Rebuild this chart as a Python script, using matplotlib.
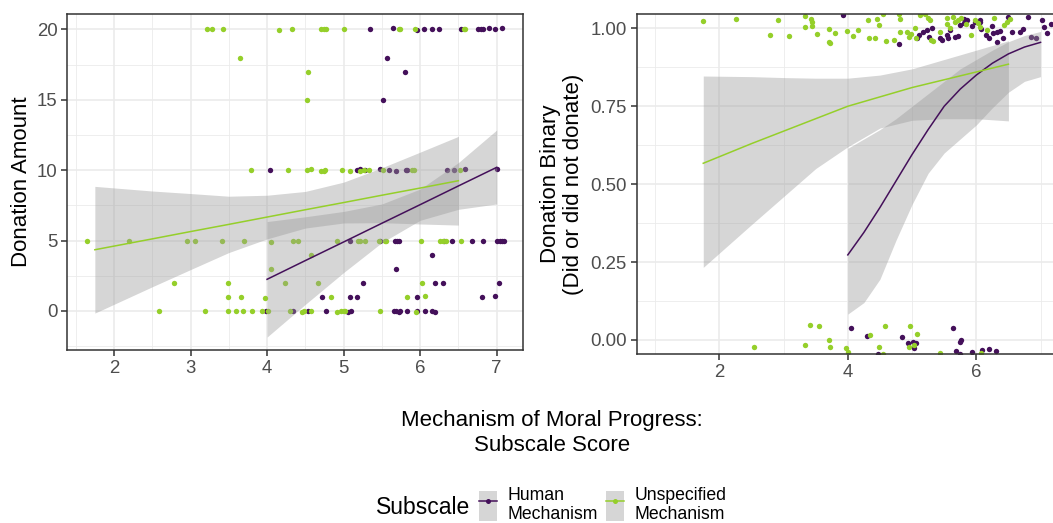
import matplotlib
matplotlib.use('Agg')
import matplotlib.pyplot as plt
from matplotlib.patches import Patch
from matplotlib.lines import Line2D
from matplotlib.legend_handler import HandlerTuple
from matplotlib.ticker import MultipleLocator

plt.rcParams['font.family'] = ['Liberation Sans', 'DejaVu Sans']

HUMAN = '#44105A'
UNSPEC = '#95CF2A'

# ---- left panel: donation amount (jittered points) ----
human_amt_x = [5.34, 5.65, 5.96, 6.05, 6.16, 6.25, 6.54, 6.76, 6.79, 6.82, 6.90, 6.98, 7.07,
               5.57, 5.80, 5.51,
               4.04, 5.17, 5.21, 5.28, 5.48, 5.59, 5.68, 5.81, 5.83, 6.35, 6.44, 6.59, 7.00,
               5.09, 5.48, 5.67, 5.70, 5.73, 6.31, 6.41, 6.68, 6.82, 7.00, 7.04, 7.07, 7.10,
               6.15, 5.68,
               5.25, 6.19, 6.30, 7.03,
               4.72, 5.09, 5.17, 5.96, 6.81, 6.98,
               3.99, 4.34, 4.54, 4.77, 5.06, 5.10, 5.66, 5.69, 5.72, 5.74, 5.83, 5.96, 6.07, 6.16, 6.19]
human_amt_y = [20.0, 20.1, 19.95, 20.0, 20.0, 20.0, 20.0, 20.05, 20.05, 20.05, 20.1, 20.05, 20.1,
               18.0, 17.0, 15.0,
               10.0, 10.0, 10.05, 10.0, 10.05, 10.0, 9.95, 10.0, 10.0, 10.0, 10.0, 10.05, 10.05,
               5.0, 4.95, 5.0, 4.95, 5.0, 5.0, 4.95, 4.95, 5.0, 5.0, 5.0, 5.0, 5.0,
               4.0, 3.0,
               2.0, 2.0, 2.0, 2.0,
               1.0, 1.0, 1.0, 1.0, 1.0, 1.05,
               0.0, 0.0, 0.0, 0.0, -0.05, 0.0, 0.0, 0.0, -0.05, 0.0, 0.0, 0.0, 0.0, 0.0, -0.05]

unspec_amt_x = [3.21, 3.28, 3.43, 4.16, 4.32, 4.71, 4.74, 4.77, 5.00, 5.72, 5.74, 5.93, 6.57, 6.59,
                3.65, 4.53, 4.52,
                3.79, 4.28, 4.52, 4.57, 4.71, 4.74, 4.76, 4.98, 5.09, 5.22, 5.27, 5.33, 5.52, 5.89,
                5.92, 6.52,
                1.65, 2.19, 2.95, 3.06, 3.41, 3.70, 4.05, 4.34, 4.41, 4.92, 5.19, 5.22, 5.28, 5.46,
                5.54, 5.55, 6.01, 6.26, 6.30, 6.34, 6.54,
                4.58, 4.05,
                2.78, 3.49, 4.23, 4.67, 6.03,
                3.49, 3.66, 3.97, 4.83, 5.83, 6.07,
                2.59, 3.19, 3.49, 3.59, 3.68, 3.80, 3.93, 4.01, 4.30, 4.45, 4.48, 4.58, 4.91, 4.96,
                5.00, 5.02, 5.47, 5.94]
unspec_amt_y = [20.0, 20.0, 20.0, 19.95, 20.0, 20.0, 20.0, 20.0, 20.0, 20.0, 20.0, 20.0, 20.0, 20.0,
                18.0, 17.0, 15.0,
                10.0, 10.0, 10.0, 10.05, 9.95, 9.95, 10.0, 10.0, 9.95, 9.95, 10.0, 10.0, 10.0, 10.0,
                10.0, 10.0,
                4.95, 4.95, 5.0, 4.95, 4.95, 4.95, 4.9, 5.0, 5.0, 5.0, 4.95, 4.95, 5.0, 5.0,
                4.95, 4.95, 4.95, 4.95, 4.95, 5.0, 4.95,
                4.0, 3.0,
                2.0, 2.0, 2.0, 2.0, 2.0,
                1.0, 1.0, 0.95, 1.0, 1.0, 1.05,
                0.0, 0.0, 0.0, 0.0, 0.0, 0.0, 0.0, 0.0, 0.0, -0.05, 0.0, 0.0, -0.05, 0.0,
                0.0, 0.0, 0.0, -0.05]

# fitted lines and confidence bands
unspec_amt_fx = [1.75, 2.5, 3.0, 3.5, 4.0, 4.5, 5.0, 5.5, 6.0, 6.5]
unspec_amt_fit = [4.35, 5.12, 5.64, 6.15, 6.67, 7.19, 7.70, 8.22, 8.73, 9.25]
unspec_amt_lo = [-0.15, 1.72, 2.94, 4.15, 5.12, 5.89, 6.25, 6.27, 6.18, 6.10]
unspec_amt_hi = [8.85, 8.52, 8.34, 8.15, 8.22, 8.49, 9.15, 10.17, 11.28, 12.40]

human_amt_fx = [4.0, 4.5, 5.0, 5.5, 6.0, 6.5, 7.0]
human_amt_fit = [2.25, 3.58, 4.90, 6.23, 7.55, 8.88, 10.20]
human_amt_lo = [-1.85, 0.47, 2.73, 4.86, 6.44, 7.22, 7.60]
human_amt_hi = [6.35, 6.69, 7.07, 7.60, 8.66, 10.54, 12.85]

# ---- right panel: donated or not (jittered points) ----
human_bin_x = [3.93, 4.80, 5.07, 5.11, 5.17, 5.24, 5.27, 5.31, 5.43, 5.46, 5.54, 5.56, 5.59,
               5.67, 5.72, 5.75, 5.81, 5.81, 5.85, 5.94, 5.98, 6.05, 6.06, 6.08, 6.15, 6.20,
               6.24, 6.26, 6.32, 6.37, 6.42, 6.50, 6.55, 6.68, 6.72, 6.81, 6.85, 7.03, 7.05,
               7.10, 7.16, 6.32, 6.93,
               4.05, 4.30, 4.47, 4.84, 4.93, 5.01, 5.06, 5.03, 5.64, 5.76, 5.75, 5.68, 5.75,
               5.94, 6.09, 6.19, 6.31]
human_bin_y = [1.043, 0.949, 0.968, 0.978, 0.989, 0.994, 0.973, 1.000, 0.968, 0.962, 0.978,
               0.968, 0.994, 0.973, 0.976, 1.011, 1.030, 1.016, 1.027, 1.008, 1.021, 1.019,
               1.027, 0.998, 0.978, 0.968, 1.008, 0.984, 0.989, 0.991, 0.968, 1.037, 0.989,
               0.989, 0.998, 1.037, 0.973, 1.027, 1.005, 0.984, 1.013, 0.955, 0.968,
               0.039, 0.014, -0.045, 0.009, -0.011, -0.005, -0.011, -0.027, 0.039, 0.000,
               -0.007, -0.035, -0.046, -0.038, -0.032, -0.030, -0.034]

unspec_bin_x = [1.74, 2.26, 2.91, 2.79, 3.08, 3.33, 3.34, 3.43, 3.44, 3.45, 3.52, 3.71, 3.80,
                3.71, 3.73, 3.99, 4.08, 4.16, 4.32, 4.33, 4.43, 4.46, 4.49, 4.55, 4.59, 4.72,
                4.80, 4.81, 4.81, 4.92, 4.96, 4.99, 5.05, 5.06, 5.13, 5.20, 5.25, 5.28, 5.29,
                5.33, 5.43, 5.54, 5.55, 5.59, 5.64, 5.67, 5.72, 5.76, 5.84, 5.91, 5.98, 6.03,
                6.06, 6.16, 6.28, 6.43, 6.47, 6.52,
                2.54, 3.41, 3.55, 3.33, 3.70, 3.73, 3.97, 4.01, 4.35, 4.58, 4.48, 4.54, 4.97,
                5.08, 4.96, 5.03, 5.43, 6.07]
unspec_bin_y = [1.023, 1.031, 1.026, 0.979, 0.976, 1.039, 1.004, 1.029, 1.020, 1.006, 0.982,
                0.999, 0.985, 0.957, 0.952, 0.991, 0.976, 0.994, 1.027, 0.968, 0.968, 1.030,
                1.011, 1.045, 0.959, 0.962, 1.045, 1.030, 0.989, 0.987, 0.973, 0.981, 1.000,
                0.968, 1.043, 1.045, 1.032, 1.027, 0.962, 0.959, 0.989, 1.032, 1.013, 1.000,
                1.037, 1.021, 1.027, 1.032, 1.013, 0.978, 1.027, 1.016, 1.005, 0.994, 1.032,
                1.011, 1.021, 1.030,
                -0.021, 0.047, 0.044, -0.017, 0.001, -0.022, -0.027, -0.038, 0.015, 0.045,
                -0.021, -0.045, 0.045, 0.020, -0.021, -0.016, -0.041, -0.041]

unspec_bin_fx = [1.75, 2.5, 3.0, 3.5, 4.0, 4.5, 5.0, 5.5, 6.0, 6.5]
unspec_bin_fit = [0.567, 0.630, 0.670, 0.710, 0.750, 0.780, 0.810, 0.835, 0.860, 0.885]
unspec_bin_lo = [0.233, 0.370, 0.460, 0.550, 0.620, 0.680, 0.705, 0.710, 0.710, 0.703]
unspec_bin_hi = [0.847, 0.845, 0.842, 0.840, 0.840, 0.850, 0.870, 0.900, 0.930, 0.960]

human_bin_fx = [4.0, 4.25, 4.5, 4.75, 5.0, 5.25, 5.5, 5.75, 6.0, 6.25, 6.5, 6.75, 7.0]
human_bin_fit = [0.273, 0.345, 0.425, 0.510, 0.595, 0.675, 0.750, 0.805, 0.850, 0.888, 0.918,
                 0.940, 0.955]
human_bin_lo = [0.083, 0.120, 0.195, 0.320, 0.435, 0.535, 0.600, 0.645, 0.690, 0.745, 0.795,
                0.830, 0.845]
human_bin_hi = [0.615, 0.645, 0.675, 0.710, 0.750, 0.790, 0.830, 0.870, 0.900, 0.930, 0.957,
                0.977, 0.990]


def style(ax):
    for s in ax.spines.values():
        s.set_color('#333333')
        s.set_linewidth(1.1)
    ax.grid(True, which='major', color='#EBEBEB', lw=1.2)
    ax.grid(True, which='minor', color='#EBEBEB', lw=0.6)
    ax.set_axisbelow(True)
    ax.tick_params(which='major', length=4, width=1.1, color='#333333',
                   labelcolor='#4D4D4D', labelsize=13.4, pad=3)
    ax.tick_params(which='minor', length=0)


def draw(ax, x, y, fx, fit, lo, hi, color):
    ax.scatter(x, y, s=15, color=color, linewidths=0, zorder=2)
    ax.fill_between(fx, lo, hi, color='#999999', alpha=0.4, lw=0, zorder=3)
    ax.plot(fx, fit, color=color, lw=1.1, zorder=4)


W, H = 1053, 523
fig = plt.figure(figsize=(W / 100, H / 100), dpi=100)

ax1 = fig.add_axes([67.3 / W, 1 - 350 / H, (522.7 - 67.3) / W, (350 - 14) / H])
draw(ax1, human_amt_x, human_amt_y, human_amt_fx, human_amt_fit, human_amt_lo, human_amt_hi, HUMAN)
draw(ax1, unspec_amt_x, unspec_amt_y, unspec_amt_fx, unspec_amt_fit, unspec_amt_lo, unspec_amt_hi, UNSPEC)
ax1.set_xlim(1.39, 7.34)
ax1.set_ylim(-2.77, 21.09)
ax1.xaxis.set_major_locator(MultipleLocator(1))
ax1.xaxis.set_minor_locator(MultipleLocator(0.5))
ax1.yaxis.set_major_locator(MultipleLocator(5))
ax1.yaxis.set_minor_locator(MultipleLocator(2.5))
style(ax1)

ax2 = fig.add_axes([636.7 / W, 1 - 354.3 / H, (1062 - 636.7) / W, (354.3 - 14) / H])
draw(ax2, human_bin_x, human_bin_y, human_bin_fx, human_bin_fit, human_bin_lo, human_bin_hi, HUMAN)
draw(ax2, unspec_bin_x, unspec_bin_y, unspec_bin_fx, unspec_bin_fit, unspec_bin_lo, unspec_bin_hi, UNSPEC)
ax2.set_xlim(0.714, 2 + (1062 - 719.3) / 64.25)
ax2.set_ylim(-0.046, 1.046)
ax2.xaxis.set_major_locator(MultipleLocator(2))
ax2.xaxis.set_minor_locator(MultipleLocator(1))
ax2.yaxis.set_major_locator(MultipleLocator(0.25))
ax2.yaxis.set_minor_locator(MultipleLocator(0.125))
ax2.yaxis.set_major_formatter(plt.FormatStrFormatter('%.2f'))
style(ax2)

fig.text(22 / W, 1 - 182 / H, 'Donation Amount', rotation=90, ha='center', va='center',
         fontsize=16, color='black')
fig.text(562 / W, 1 - 184 / H, 'Donation Binary\n(Did or did not donate)', rotation=90,
         ha='center', va='center', fontsize=16, color='black', linespacing=1.1)
fig.text(552 / W, 1 - 433 / H, 'Mechanism of Moral Progress:\nSubscale Score', ha='center',
         va='center', fontsize=16, color='black', linespacing=1.2)

fig.text(423 / W, 1 - 508 / H, 'Subscale', ha='center', va='center', fontsize=16.5)
handles = [
    (Patch(facecolor='#D6D6D6', edgecolor='none'),
     Line2D([], [], color=HUMAN, lw=1.1, marker='o', ms=3.6, mec='none')),
    (Patch(facecolor='#D6D6D6', edgecolor='none'),
     Line2D([], [], color=UNSPEC, lw=1.1, marker='o', ms=3.6, mec='none')),
]
fig.legend(handles, ['Human\nMechanism', 'Unspecified\nMechanism'],
           handler_map={tuple: HandlerTuple(ndivide=1, pad=0)},
           loc='center left', bbox_to_anchor=(479 / W, 1 - 505 / H), ncol=2, frameon=False,
           fontsize=12.7, handlelength=1.0, handleheight=2.2, handletextpad=0.6,
           columnspacing=0.5, borderpad=0, borderaxespad=0, numpoints=1)

fig.savefig('out.png', dpi=100)
